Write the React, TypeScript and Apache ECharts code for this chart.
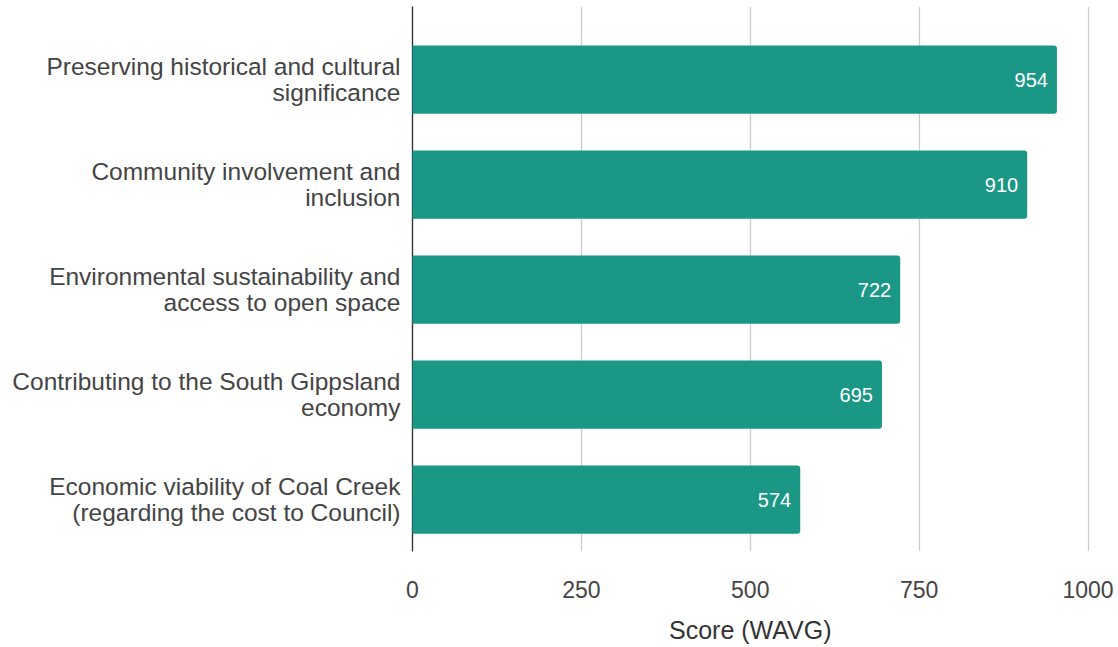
import React, { useEffect, useRef } from "react";
import * as echarts from "echarts";

const categories = [
  "Preserving historical and cultural\nsignificance",
  "Community involvement and\ninclusion",
  "Environmental sustainability and\naccess to open space",
  "Contributing to the South Gippsland\neconomy",
  "Economic viability of Coal Creek\n(regarding the cost to Council)",
];
const scores = [954, 910, 722, 695, 574];
const xTicks = { min: 0, max: 1000, interval: 250 };
const axisTitle = "Score (WAVG)";

const FONT = "'Liberation Sans', Arial, sans-serif";
const BAR = "#1b9786";

export default function App() {
  const ref = useRef<HTMLDivElement>(null);
  useEffect(() => {
    if (!ref.current) return;
    const chart = echarts.init(ref.current, undefined, { renderer: "svg" });
    const left = 412.5;
    const right = 30;
    chart.setOption({
      animation: false,
      grid: [
        { left, right, top: 7, height: 563 },
        { left, right, top: 27, height: 525 },
      ],
      xAxis: [
        {
          gridIndex: 0,
          type: "value",
          min: xTicks.min,
          max: xTicks.max,
          interval: xTicks.interval,
          axisLine: { show: false },
          axisTick: { show: false },
          splitLine: { show: true, lineStyle: { color: "#cccccc", width: 1.3 } },
          axisLabel: {
            color: "#444",
            fontSize: 23,
            fontFamily: FONT,
            margin: 27,
            formatter: (v: number) => String(v),
          },
          name: axisTitle,
          nameLocation: "middle",
          nameGap: 66,
          nameTextStyle: { color: "#333", fontSize: 25, fontFamily: FONT },
        },
        {
          gridIndex: 1,
          type: "value",
          min: xTicks.min,
          max: xTicks.max,
          show: false,
        },
      ],
      yAxis: [
        {
          gridIndex: 0,
          type: "value",
          min: 0,
          max: 1,
          axisLine: { show: true, onZero: false, lineStyle: { color: "#333", width: 1.3 } },
          axisTick: { show: false },
          axisLabel: { show: false },
          splitLine: { show: false },
        },
        {
          gridIndex: 1,
          type: "category",
          data: categories,
          inverse: true,
          axisLine: { show: false },
          axisTick: { show: false },
          axisLabel: {
            color: "#444",
            fontSize: 24.5,
            lineHeight: 26,
            fontFamily: FONT,
            margin: 12,
            align: "right",
          },
        },
      ],
      series: [
        {
          type: "bar",
          xAxisIndex: 1,
          yAxisIndex: 1,
          data: scores,
          barCategoryGap: "35%",
          itemStyle: { color: BAR, borderRadius: [0, 3, 3, 0] },
          label: {
            show: true,
            position: "insideRight",
            distance: 9,
            color: "#fff",
            fontSize: 20,
            fontFamily: FONT,
          },
        },
      ],
    });
    return () => chart.dispose();
  }, []);
  return (
    <div
      ref={ref}
      style={{ position: "fixed", left: 0, top: 0, width: 1118, height: 647, background: "#fff" }}
    />
  );
}
